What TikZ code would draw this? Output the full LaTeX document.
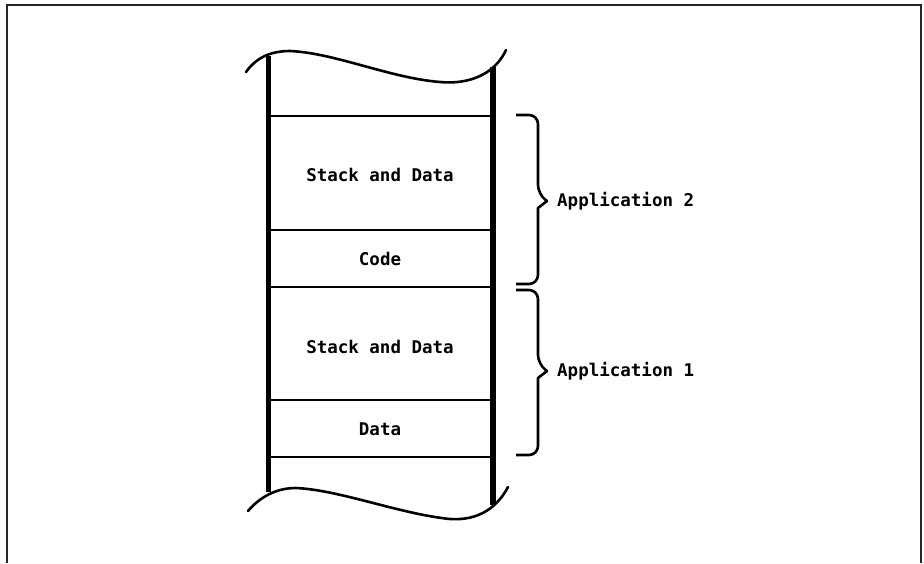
\documentclass[tikz,border=0pt]{standalone}
\usepackage{fontspec}
\setmonofont{DejaVu Sans Mono}
\begin{document}
\begin{tikzpicture}[x=1pt,y=-1pt,
  frameline/.style={line width=1.4pt,black!85},
  wall/.style={line width=5.5pt},
  wave/.style={line width=2.6pt,line cap=round},
  divider/.style={line width=2.3pt},
  bracepath/.style={line width=2.6pt,rounded corners=9pt,line join=round},
  celltext/.style={font=\ttfamily\bfseries\fontsize{17.5}{20}\selectfont,inner sep=0pt},
  applabel/.style={font=\ttfamily\bfseries\fontsize{17.5}{20}\selectfont,inner sep=0pt,anchor=west}]
\useasboundingbox (0,0) rectangle (924,563);

% outer frame (open at the bottom)
\draw[frameline] (7,563) -- (7,5) -- (921,5) -- (921,563);

% memory column walls
\coordinate (lt) at (268.5,56);
\coordinate (lb) at (268.5,492);
\coordinate (rt) at (493,67);
\coordinate (rb) at (493,505);
\draw[wall] (lt) -- (lb);
\draw[wall] (rt) -- (rb);

% torn top and bottom edges
\draw[wave] (246,72) .. controls (256,58) and (270,51) .. (290,51)
  .. controls (335,53) and (390,78) .. (440,82)
  .. controls (472,85) and (496,72) .. (506,50);
\draw[wave] (248,511) .. controls (260,497) and (276,488) .. (296,488)
  .. controls (340,490) and (400,514) .. (450,519)
  .. controls (480,521) and (498,506) .. (508,487);

% region dividers
\foreach \y/\n in {116/a,230/b,287/c,400/d,457/e}{
  \coordinate (dl\n) at (268.5,\y);
  \coordinate (dr\n) at (493,\y);
  \draw[divider] (dl\n) -- (dr\n);
}

% region labels
\node[celltext] (sd2) at (380,175) {Stack and Data};
\node[celltext] (code) at (380,259) {Code};
\node[celltext] (sd1) at (380,347) {Stack and Data};
\node[celltext] (data) at (380,429) {Data};

% braces grouping regions into applications
\coordinate (b2top) at (516,115);
\coordinate (b2bot) at (516,284);
\coordinate (b1top) at (516,290);
\coordinate (b1bot) at (516,455);
\node[applabel] (app2) at (557,201) {Application 2};
\node[applabel] (app1) at (557,371) {Application 1};

\draw[bracepath] (b2top) -- (538,115) -- (538,194) [sharp corners] -- (547,201) -- (538,208)
  [rounded corners=9pt] -- (538,284) -- (b2bot);
\draw[bracepath] (b1top) -- (538,290) -- (538,364) [sharp corners] -- (547,371) -- (538,378)
  [rounded corners=9pt] -- (538,455) -- (b1bot);
\end{tikzpicture}
\end{document}
